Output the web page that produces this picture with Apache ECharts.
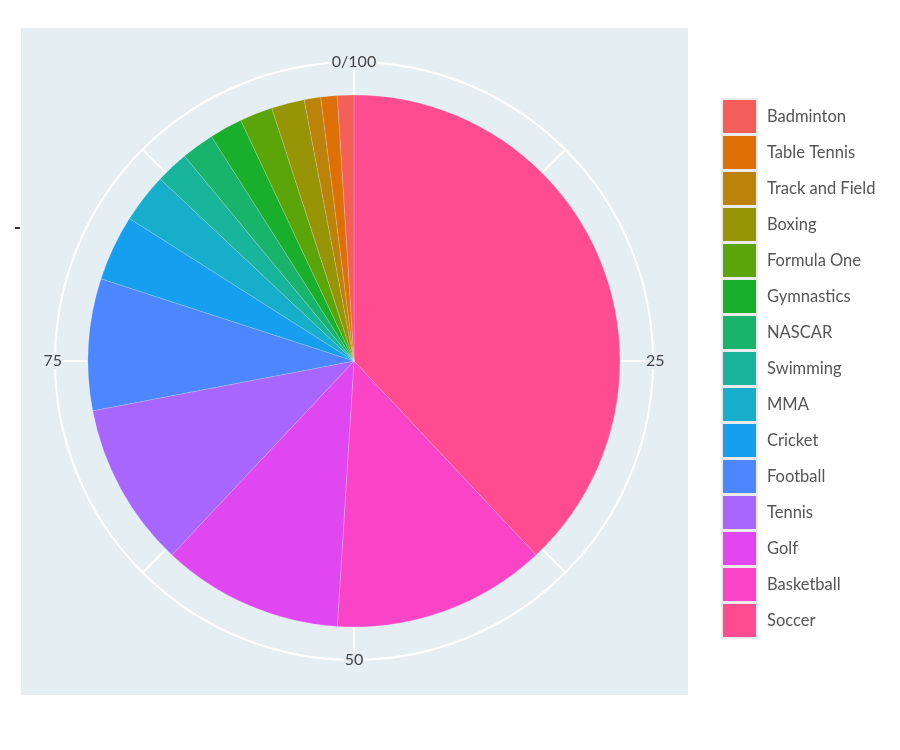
<!DOCTYPE html>
<html>
<head>
<meta charset="utf-8">
<script src="https://cdn.jsdelivr.net/npm/echarts@6/dist/echarts.min.js"></script>
<style>
  html, body { margin: 0; padding: 0; background: #fff; }
  #main { width: 900px; height: 750px; }
</style>
</head>
<body>
<div id="main"></div>
<script>
// slices, clockwise from the top
const sports = ['Soccer', 'Basketball', 'Golf', 'Tennis', 'Football', 'Cricket', 'MMA',
    'Swimming', 'NASCAR', 'Gymnastics', 'Formula One', 'Boxing', 'Track and Field',
    'Table Tennis', 'Badminton'];
const shares = [38, 13, 11, 10, 8, 4, 3, 2, 2, 2, 2, 2, 1, 1, 1];
const colors = ['#FF4B90', '#FA44C8', '#E047F0', '#A966FF', '#4C87FF', '#169FEE', '#17AECB',
    '#18B49C', '#1AB36C', '#19AF2D', '#5BA50B', '#979507', '#BB8309', '#DD7108', '#F45F5A'];
const angleTicks = [0, 25, 50, 75];

const panelBg = '#E5EFF3';
const cx = 354, cy = 361;

const chart = echarts.init(document.getElementById('main'));

const tickLabel = v => (v === 0 ? '0/100' : (angleTicks.indexOf(v) >= 0 ? String(v) : ''));

const option = {
    animation: false,
    textStyle: { fontFamily: 'Lato' },
    graphic: [
        { type: 'rect', z: -10, shape: { x: 21, y: 28, width: 667, height: 667 }, style: { fill: panelBg } },
        { type: 'rect', z: -10, shape: { x: 15, y: 227, width: 5, height: 2 }, style: { fill: '#333' } }
    ],
    polar: [
        { center: [cx, cy], radius: 299 },
        { center: [cx, cy], radius: 299 }
    ],
    angleAxis: [
        {
            polarIndex: 0, type: 'value', min: 0, max: 100, interval: 25, startAngle: 90,
            axisLine: { lineStyle: { color: '#fff', width: 2 } },
            axisTick: { show: false },
            axisLabel: { show: false },
            splitLine: { lineStyle: { color: '#fff', width: 2 } },
            minorTick: { show: false, splitNumber: 2 },
            minorSplitLine: { show: true, lineStyle: { color: '#fff', width: 2 } }
        },
        {
            polarIndex: 1, type: 'value', min: 0, max: 100, interval: 25, startAngle: 90, z: 5,
            axisLine: { show: false },
            axisTick: { show: false },
            splitLine: { show: false },
            axisLabel: {
                margin: -8,
                color: '#444',
                fontSize: 16,
                fontFamily: 'Lato',
                backgroundColor: panelBg,
                padding: [0, 1],
                formatter: tickLabel
            }
        }
    ],
    radiusAxis: [
        { polarIndex: 0, show: false, min: 0, max: 1 },
        { polarIndex: 1, show: false, min: 0, max: 1 }
    ],
    legend: {
        orient: 'vertical',
        left: 721,
        top: 98,
        padding: 0,
        itemWidth: 35,
        itemHeight: 35,
        itemGap: -1,
        icon: 'rect',
        itemStyle: { borderColor: '#EBEBEB', borderWidth: 2 },
        data: sports.slice().reverse(),
        textStyle: { color: '#555', fontSize: 16.5, fontFamily: 'Lato', padding: [0, 0, 0, 5] }
    },
    series: [{
        type: 'pie',
        center: [cx, cy],
        radius: 266,
        startAngle: 90,
        clockwise: true,
        z: 3,
        label: { show: false },
        labelLine: { show: false },
        emphasis: { disabled: true },
        itemStyle: { borderColor: 'rgba(255,255,255,0.35)', borderWidth: 0.5 },
        data: sports.map((name, i) => ({ name, value: shares[i], itemStyle: { color: colors[i] } }))
    }]
};

chart.setOption(option);
</script>
</body>
</html>
